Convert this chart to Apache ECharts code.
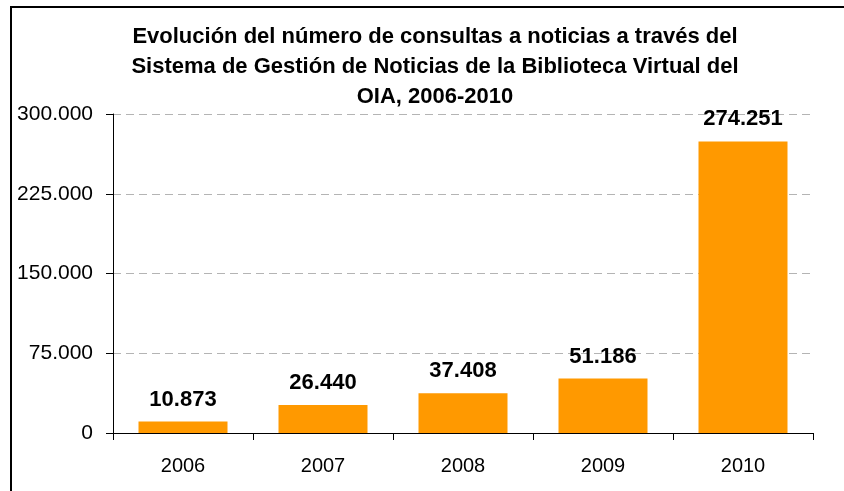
<!DOCTYPE html>
<html>
<head>
<meta charset="utf-8">
<script src="https://cdn.jsdelivr.net/npm/echarts@6/dist/echarts.min.js"></script>
<style>
  html, body { margin: 0; padding: 0; background: #fff; }
  #chart { width: 844px; height: 491px; }
</style>
</head>
<body>
<div id="chart"></div>
<script>
// datos
const years = ['2006', '2007', '2008', '2009', '2010']
const consultas = [10873, 26440, 37408, 51186, 274251]
const yTicks = [0, 75000, 150000, 225000, 300000]

const fmt = v => String(v).replace(/\B(?=(\d{3})+(?!\d))/g, '.')

const chart = echarts.init(document.getElementById('chart'))

chart.setOption({
  animation: false,
  textStyle: { fontFamily: 'Arial, "Liberation Sans", sans-serif' },
  title: {
    text: 'Evolución del número de consultas a noticias a través del\nSistema de Gestión de Noticias de la Biblioteca Virtual del\nOIA, 2006-2010',
    left: 430,
    top: 17,
    textAlign: 'center',
    textStyle: {
      fontSize: 22,
      fontWeight: 'bold',
      color: '#000',
      lineHeight: 30
    }
  },
  grid: {
    left: 113,
    right: 31,
    top: 114,
    bottom: 58,
    containLabel: false
  },
  xAxis: {
    type: 'category',
    data: years,
    axisLine: { lineStyle: { color: '#000', width: 1 } },
    axisTick: { show: true, length: 7, lineStyle: { color: '#000' } },
    axisLabel: { color: '#000', fontSize: 20, margin: 23 }
  },
  yAxis: {
    type: 'value',
    min: yTicks[0],
    max: yTicks[yTicks.length - 1],
    interval: yTicks[1] - yTicks[0],
    axisLine: { show: true, lineStyle: { color: '#000', width: 1 } },
    axisTick: { show: true, length: 7, lineStyle: { color: '#000' } },
    axisLabel: { color: '#000', fontSize: 21, margin: 20, formatter: fmt },
    splitLine: {
      show: true,
      lineStyle: { color: '#b4b4b4', type: [8, 5], width: 1 }
    }
  },
  series: [{
    type: 'bar',
    data: consultas,
    barWidth: 89,
    itemStyle: { color: '#ff9900' },
    label: {
      show: true,
      position: 'top',
      distance: 11,
      color: '#000',
      fontSize: 22,
      fontWeight: 'bold',
      formatter: p => fmt(p.value)
    }
  }],
  graphic: [
    { type: 'line', shape: { x1: 11, y1: 7, x2: 11, y2: 491 }, style: { stroke: '#000', lineWidth: 2 } },
    { type: 'line', shape: { x1: 10, y1: 7, x2: 844, y2: 7 }, style: { stroke: '#000', lineWidth: 2 } }
  ]
})
</script>
</body>
</html>
